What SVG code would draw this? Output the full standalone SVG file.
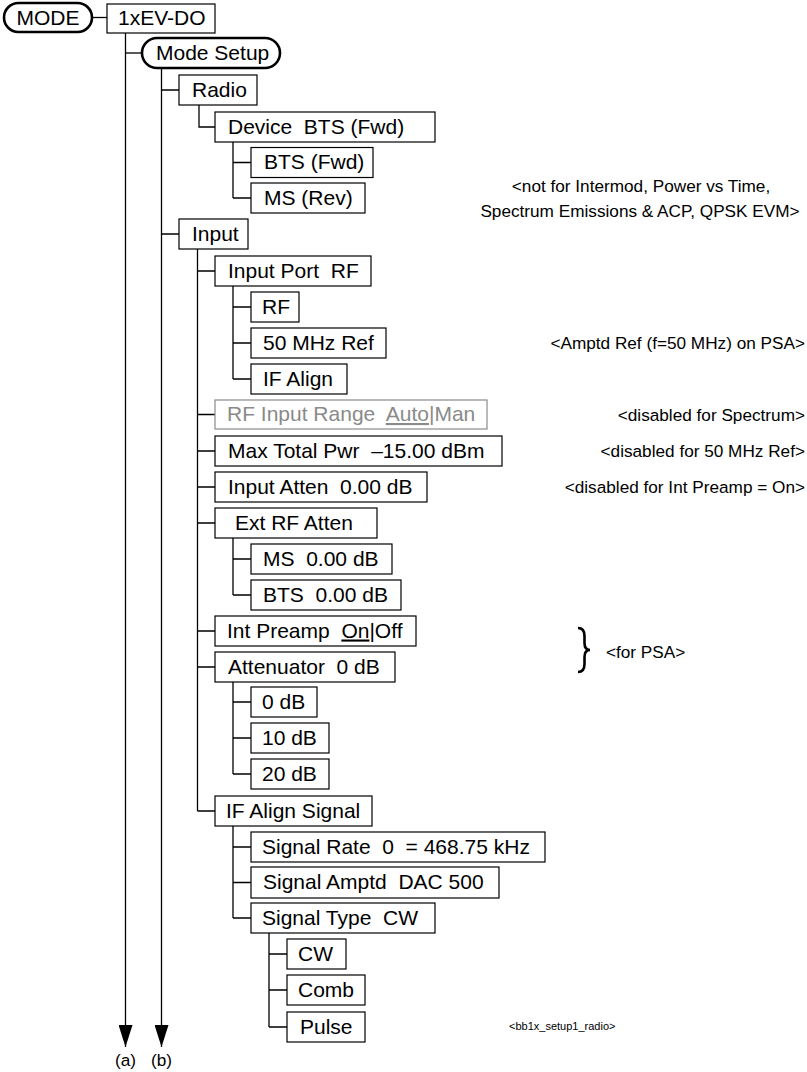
<svg xmlns="http://www.w3.org/2000/svg" width="807" height="1072" viewBox="0 0 807 1072" xml:space="preserve">
<style>
.box{fill:#fff;stroke:#000;stroke-width:1.2}
.gbox{fill:#fff;stroke:#8a8a8a;stroke-width:1.2}
.pill{fill:#fff;stroke:#000;stroke-width:2.6}
.t{font-family:"Liberation Sans",Arial,sans-serif;font-size:21px;fill:#000;white-space:pre}
.g{fill:#8a8a8a}
.n{font-family:"Liberation Sans",Arial,sans-serif;font-size:17.2px;fill:#000;white-space:pre}
.s{font-family:"Liberation Sans",Arial,sans-serif;font-size:11px;fill:#000}
.c{stroke:#000;stroke-width:1.3;fill:none}
.u{text-decoration:underline}
</style>
<defs>
<marker id="arr" markerUnits="userSpaceOnUse" markerWidth="22" markerHeight="14" refX="22" refY="7" orient="auto">
<path d="M0,0 L22,7 L0,14 Z" fill="#000"/>
</marker>
</defs>
<g id="connectors">
<path class="c" d="M92,17.5 H107"/>
<path class="c" d="M125.5,33 V1047" marker-end="url(#arr)"/>
<path class="c" d="M125.5,53 H142"/>
<path class="c" d="M161.5,68 V1047" marker-end="url(#arr)"/>
<path class="c" d="M161.5,90 H179 M161.5,234 H179"/>
<path class="c" d="M199,105 V127 H215"/>
<path class="c" d="M233,142 V198 M233,162.5 H251 M233,198 H251"/>
<path class="c" d="M197.5,249 V811 M197.5,271 H215 M197.5,414.5 H215 M197.5,451 H215 M197.5,487 H215 M197.5,523 H215 M197.5,631 H215 M197.5,667 H215 M197.5,811 H215"/>
<path class="c" d="M233,286 V379 M233,307 H251 M233,343 H251 M233,379 H251"/>
<path class="c" d="M233,538 V595 M233,559 H251 M233,595 H251"/>
<path class="c" d="M233,682 V774 M233,702 H251 M233,738 H251 M233,774 H251"/>
<path class="c" d="M233,826 V918 M233,847 H251 M233,882.5 H251 M233,918 H251"/>
<path class="c" d="M269,933 V1027 M269,954 H287 M269,990 H287 M269,1027 H287"/>
</g>
<g id="n-mode"><rect class="pill" x="4" y="3" width="88" height="29" rx="14.5"/><text class="t" x="48" y="24.5" text-anchor="middle">MODE</text></g>
<g id="n-1xevdo"><rect class="box" x="107" y="4" width="108" height="29"/><text class="t" x="118" y="25">1xEV-DO</text></g>
<g id="n-modesetup"><rect class="pill" x="142" y="38" width="138" height="30" rx="15"/><text class="t" x="156" y="59.5">Mode Setup</text></g>
<g id="n-radio"><rect class="box" x="179" y="75" width="78" height="30"/><text class="t" x="192" y="96.5">Radio</text></g>
<g id="n-device"><rect class="box" x="215" y="112" width="220" height="30"/><text class="t" x="228" y="133.5">Device  BTS (Fwd)</text></g>
<g id="n-btsfwd"><rect class="box" x="251" y="147.5" width="122" height="30"/><text class="t" x="264" y="169">BTS (Fwd)</text></g>
<g id="n-msrev"><rect class="box" x="251" y="183" width="114" height="30"/><text class="t" x="264" y="204.5">MS (Rev)</text></g>
<g id="n-input"><rect class="box" x="179" y="219" width="69" height="30"/><text class="t" x="192" y="240.5">Input</text></g>
<g id="n-inputport"><rect class="box" x="215" y="256" width="156" height="30"/><text class="t" x="228" y="277.5">Input Port  RF</text></g>
<g id="n-rf"><rect class="box" x="251" y="292" width="48" height="30"/><text class="t" x="262" y="313.5">RF</text></g>
<g id="n-50mhz"><rect class="box" x="251" y="328" width="135" height="30"/><text class="t" x="263" y="349.5">50 MHz Ref</text></g>
<g id="n-ifalign"><rect class="box" x="251" y="364" width="96" height="30"/><text class="t" x="263" y="385.5">IF Align</text></g>
<g id="n-rfrange"><rect class="gbox" x="215" y="400" width="272" height="29"/><text class="t g" x="227" y="421">RF Input Range  <tspan class="u">Auto</tspan>|Man</text></g>
<g id="n-maxpwr"><rect class="box" x="215" y="436" width="287" height="30"/><text class="t" x="228" y="457.5">Max Total Pwr  –15.00 dBm</text></g>
<g id="n-inatten"><rect class="box" x="215" y="472" width="212" height="30"/><text class="t" x="228" y="493.5">Input Atten  0.00 dB</text></g>
<g id="n-extrf"><rect class="box" x="215" y="508" width="162" height="30"/><text class="t" x="235" y="529.5">Ext RF Atten</text></g>
<g id="n-ms0"><rect class="box" x="251" y="544" width="141" height="30"/><text class="t" x="263" y="565.5">MS  0.00 dB</text></g>
<g id="n-bts0"><rect class="box" x="251" y="580" width="150" height="30"/><text class="t" x="263" y="601.5">BTS  0.00 dB</text></g>
<g id="n-preamp"><rect class="box" x="215" y="616" width="201" height="30"/><text class="t" x="227" y="637.5">Int Preamp  <tspan class="u">On</tspan>|Off</text></g>
<g id="n-attenuator"><rect class="box" x="215" y="652" width="180" height="30"/><text class="t" x="228" y="673.5">Attenuator  0 dB</text></g>
<g id="n-0db"><rect class="box" x="251" y="687" width="66" height="30"/><text class="t" x="262" y="708.5">0 dB</text></g>
<g id="n-10db"><rect class="box" x="251" y="723" width="78" height="30"/><text class="t" x="262" y="744.5">10 dB</text></g>
<g id="n-20db"><rect class="box" x="251" y="759" width="78" height="30"/><text class="t" x="262" y="780.5">20 dB</text></g>
<g id="n-ifsignal"><rect class="box" x="215" y="796" width="157" height="30"/><text class="t" x="226" y="817.5">IF Align Signal</text></g>
<g id="n-sigrate"><rect class="box" x="251" y="832" width="294" height="30"/><text class="t" x="262" y="853.5">Signal Rate  0  = 468.75 kHz</text></g>
<g id="n-sigamptd"><rect class="box" x="251" y="867" width="248" height="31"/><text class="t" x="263" y="889">Signal Amptd  DAC 500</text></g>
<g id="n-sigtype"><rect class="box" x="251" y="903" width="184" height="30"/><text class="t" x="262" y="924.5">Signal Type  CW</text></g>
<g id="n-cw"><rect class="box" x="287" y="939" width="59" height="30"/><text class="t" x="298" y="960.5">CW</text></g>
<g id="n-comb"><rect class="box" x="287" y="975" width="78" height="30"/><text class="t" x="298" y="996.5">Comb</text></g>
<g id="n-pulse"><rect class="box" x="287" y="1012" width="78" height="30"/><text class="t" x="300" y="1033.5">Pulse</text></g>
<g id="labels">
<text class="n" x="125.5" y="1066" text-anchor="middle">(a)</text>
<text class="n" x="161.5" y="1066" text-anchor="middle">(b)</text>
</g>
<g id="notes">
<text class="n" x="641" y="192" text-anchor="middle">&lt;not for Intermod, Power vs Time,</text>
<text class="n" x="640" y="217" text-anchor="middle">Spectrum Emissions &amp; ACP, QPSK EVM&gt;</text>
<text class="n" x="805" y="348.5" text-anchor="end">&lt;Amptd Ref (f=50 MHz) on PSA&gt;</text>
<text class="n" x="805" y="420.5" text-anchor="end">&lt;disabled for Spectrum&gt;</text>
<text class="n" x="805" y="457" text-anchor="end">&lt;disabled for 50 MHz Ref&gt;</text>
<text class="n" x="805" y="493" text-anchor="end">&lt;disabled for Int Preamp = On&gt;</text>
<path d="M578,628 Q584.5,628 584.5,636 L584.5,643 Q584.5,650 590,650 Q584.5,650 584.5,657 L584.5,664 Q584.5,672 578,672" fill="none" stroke="#000" stroke-width="2.6"/>
<text class="n" x="606" y="658">&lt;for PSA&gt;</text>
<text class="s" x="509" y="1030">&lt;bb1x_setup1_radio&gt;</text>
</g>
</svg>
